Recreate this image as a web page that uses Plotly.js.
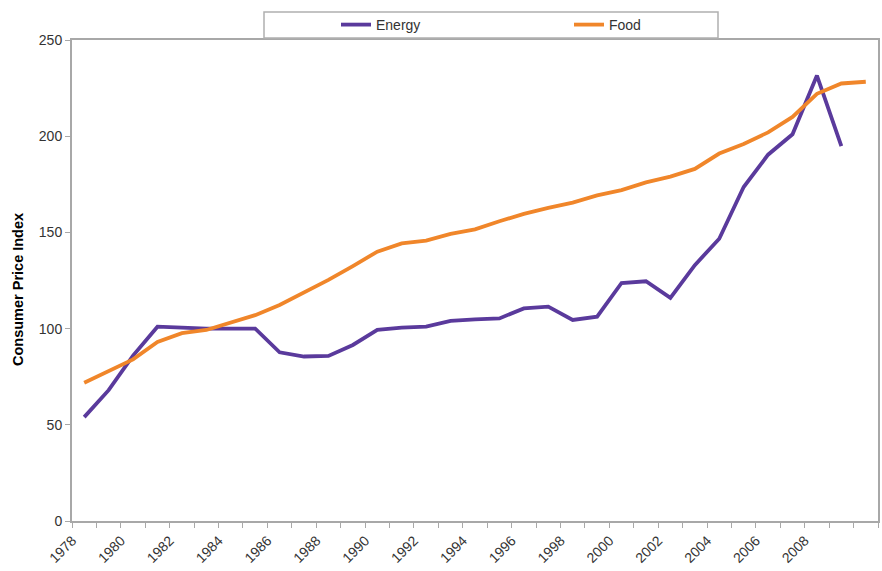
<!DOCTYPE html>
<html>
<head>
<meta charset="utf-8">
<script src="https://cdn.plot.ly/plotly-3.0.1.min.js"></script>
<style>
  html, body { margin: 0; padding: 0; background: #ffffff; }
  #chart { width: 882px; height: 571px; }
</style>
</head>
<body>
<div id="chart"></div>
<script>
// ---- Data ----
const yearsEnergy = [1978, 1979, 1980, 1981, 1982, 1983, 1984, 1985, 1986, 1987, 1988,
  1989, 1990, 1991, 1992, 1993, 1994, 1995, 1996, 1997, 1998, 1999, 2000, 2001, 2002,
  2003, 2004, 2005, 2006, 2007, 2008, 2009];
const energyCPI = [54, 68, 86, 101, 100.5, 100, 100, 100, 87.7, 85.5, 85.8,
  91.5, 99.3, 100.5, 101, 104, 104.8, 105.3, 110.5, 111.4, 104.5, 106.2, 123.7, 124.6, 116,
  133, 146.7, 173.6, 190.4, 201, 231.5, 194.8];

const yearsFood = [1978, 1979, 1980, 1981, 1982, 1983, 1984, 1985, 1986, 1987, 1988,
  1989, 1990, 1991, 1992, 1993, 1994, 1995, 1996, 1997, 1998, 1999, 2000, 2001, 2002,
  2003, 2004, 2005, 2006, 2007, 2008, 2009, 2010];
const foodCPI = [71.9, 78, 84, 93, 97.6, 99.3, 103, 107, 112.3, 118.7, 125.3,
  132.5, 140, 144.3, 145.7, 149.2, 151.6, 155.8, 159.6, 162.7, 165.5, 169.2, 172, 176, 179,
  183, 191, 196, 202, 210, 222, 227.4, 228.3];

const xTickYears = [1978, 1980, 1982, 1984, 1986, 1988, 1990, 1992, 1994, 1996, 1998,
  2000, 2002, 2004, 2006, 2008];
const yTicks = [0, 50, 100, 150, 200, 250];

const seriesNames = ['Energy', 'Food'];
const yTitle = 'Consumer Price Index';

// ---- Traces ----
const traces = [
  {
    x: yearsEnergy, y: energyCPI, name: seriesNames[0], type: 'scatter', mode: 'lines',
    line: { color: '#5a3a9c', width: 3.8 }
  },
  {
    x: yearsFood, y: foodCPI, name: seriesNames[1], type: 'scatter', mode: 'lines',
    line: { color: '#f0862a', width: 3.8 }
  }
];

const axisGray = '#a8a8a8';
const textColor = '#333333';

const layout = {
  width: 882, height: 571,
  margin: { l: 72, r: 4, t: 40, b: 50, autoexpand: false },
  paper_bgcolor: '#ffffff',
  plot_bgcolor: '#ffffff',
  font: { family: 'Liberation Sans, Arial, sans-serif', size: 14, color: textColor },
  showlegend: true,
  legend: {
    orientation: 'h',
    x: (336 - 72) / 806, xanchor: 'left',
    y: 1 + (15 / 481), yanchor: 'middle',
    bgcolor: 'rgba(0,0,0,0)',
    borderwidth: 0,
    entrywidth: 188, entrywidthmode: 'pixels',
    font: { size: 14, color: textColor },
    itemclick: false
  },
  shapes: [
    {
      type: 'rect', xref: 'paper', yref: 'paper',
      x0: (264 - 72) / 806, x1: (718 - 72) / 806,
      y0: 1 + (2 / 481), y1: 1 + (28 / 481),
      line: { color: '#b0b0b0', width: 1.5 },
      fillcolor: 'rgba(0,0,0,0)'
    }
  ],
  annotations: [
    {
      text: '<b>' + yTitle + '</b>',
      xref: 'paper', yref: 'paper',
      x: (18 - 72) / 806, y: (521 - 290) / 481,
      xanchor: 'center', yanchor: 'middle',
      textangle: -90, showarrow: false,
      font: { family: 'Liberation Sans, Arial, sans-serif', size: 14.5, color: '#000000' }
    }
  ],
  xaxis: {
    type: 'linear',
    range: [1977.5, 2010.5],
    tickmode: 'array',
    tickvals: xTickYears,
    ticktext: xTickYears.map(String),
    tickangle: -45,
    ticks: '',
    ticklabelstandoff: 4,
    ticklabelshift: -12,
    tickfont: { size: 14, color: textColor },
    showgrid: false,
    zeroline: false,
    showline: true, mirror: true,
    linecolor: axisGray, linewidth: 2,
    minor: {
      tickmode: 'linear', tick0: 1977.5, dtick: 1,
      ticks: 'outside', ticklen: 5, tickwidth: 1, tickcolor: axisGray,
      showgrid: false
    },
    fixedrange: true
  },
  yaxis: {
    range: [0, 250],
    tickmode: 'array',
    tickvals: yTicks,
    ticks: 'outside', ticklen: 5, tickwidth: 1, tickcolor: axisGray,
    tickfont: { size: 14, color: textColor },
    showgrid: false,
    zeroline: false,
    showline: true, mirror: true,
    linecolor: axisGray, linewidth: 2,
    fixedrange: true
  }
};

Plotly.newPlot('chart', traces, layout, { displayModeBar: false, staticPlot: true });
</script>
</body>
</html>
